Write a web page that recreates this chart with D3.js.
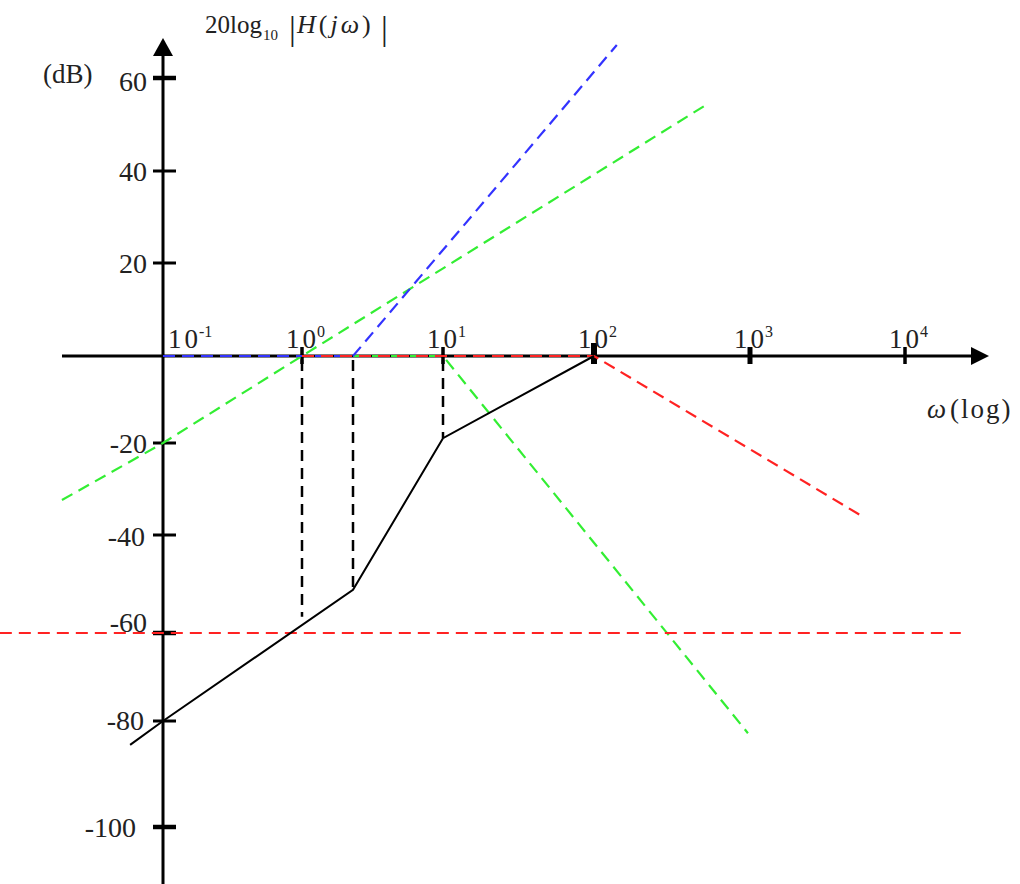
<!DOCTYPE html>
<html>
<head>
<meta charset="utf-8">
<script src="https://cdn.jsdelivr.net/npm/d3@7"></script>
<style>
  html, body { margin: 0; padding: 0; background: #fff; }
  svg { display: block; font-family: "Liberation Serif", "DejaVu Serif", serif; }
</style>
</head>
<body>
<svg id="chart" width="1020" height="884"></svg>
<script>
// ---- data (frequency in rad/s, magnitude in dB) ----
const xTicks = [0.1, 1, 10, 100, 1000, 10000];
const xExponents = ["-1", "0", "1", "2", "3", "4"];
const yTicks = [60, 40, 20, -20, -40, -60, -80, -100];

// overall asymptotic magnitude (solid black)
const totalMagnitude = [[0.058, -84.5], [0.1, -80], [2.3, -51.2], [10, -18.9], [100, 0]];
// vertical guide lines at break frequencies: [omega, lower dB]
const breakGuides = [[1, -56.7], [2.3, -51.2], [10, -18.9]];
// constant gain term (red dashed)
const constantGain = [[0.0067, -60], [22900, -60]];
// pole at 100 (red dashed)
const poleAt100 = [[1, 0], [100, 0], [5520, -36.3]];
// double zero at ~2.3 (blue dashed)
const doubleZero = [[0.1, 0], [2.3, 0], [140, 67.1]];
// zero at origin, +20 dB/dec (green dashed)
const zeroAtOrigin = [[0.01875, -32.4], [0.1, -20], [1, 0], [522, 54.2]];
// double pole at 10 (green dashed)
const doublePole = [[0.1, 0], [10, 0], [970, -82.3]];

// ---- scales (hand-drawn spacing of the original, piecewise) ----
const x = d3.scaleLog()
  .domain([0.1, 1, 10, 100, 1000, 10000])
  .range([163, 302, 443, 594, 750, 905]);
const y = d3.scaleLinear()
  .domain([60, 40, 20, 0, -20, -40, -60, -80, -100])
  .range([78, 171, 263, 356, 443, 535, 633, 721, 827]);

const svg = d3.select("#chart");
const line = d3.line().x(d => x(d[0])).y(d => y(d[1]));

// ---- axes ----
const axisG = svg.append("g");
const x0 = x(0.1), y0 = y(0);
axisG.append("line").attr("x1", x0).attr("x2", x0).attr("y1", 50).attr("y2", 884)
  .attr("stroke", "#000").attr("stroke-width", 3);
axisG.append("path").attr("d", `M${x0},38 L${x0 - 10},56 L${x0 + 10},56 Z`).attr("fill", "#000");
axisG.append("line").attr("x1", 62).attr("x2", 975).attr("y1", y0).attr("y2", y0)
  .attr("stroke", "#000").attr("stroke-width", 3);
axisG.append("path").attr("d", `M989,${y0} L971,${y0 - 9} L971,${y0 + 9} Z`).attr("fill", "#000");

// y ticks
const thickY = new Set([60, -60, -100]);
axisG.selectAll(".ytick").data(yTicks).join("line")
  .attr("x1", 153).attr("x2", 176)
  .attr("y1", d => y(d)).attr("y2", d => y(d))
  .attr("stroke", "#000").attr("stroke-width", d => thickY.has(d) ? 4.5 : 3);

const yLabelDy = { 60: 13, "-60": -1, "-40": 11, "-80": 9, "-100": 10 };
const yLabelX = { "-100": 136, "-40": 145, "-80": 144 };
axisG.selectAll(".ylab").data(yTicks).join("text")
  .attr("x", d => yLabelX[d] !== undefined ? yLabelX[d] : 147)
  .attr("y", d => y(d) + (yLabelDy[d] !== undefined ? yLabelDy[d] : 10))
  .attr("text-anchor", "end")
  .attr("font-size", 28)
  .attr("fill", "#222")
  .text(d => d);

// x ticks
axisG.selectAll(".xtick").data(xTicks.slice(1)).join("line")
  .attr("x1", d => x(d)).attr("x2", d => x(d))
  .attr("y1", d => d === 100 ? 343 : 347).attr("y2", 364)
  .attr("stroke", "#000").attr("stroke-width", d => d === 100 ? 6 : (d === 1000 ? 5 : 3.5));

const xl = axisG.selectAll(".xlab").data(xTicks).join("text")
  .attr("x", d => d === 0.1 ? x(d) + 5 : x(d) - 16)
  .attr("y", 348)
  .attr("fill", "#222");
xl.append("tspan").attr("font-size", 27).attr("letter-spacing", 3).text("10");
xl.append("tspan").attr("font-size", 16).attr("dy", -11).attr("dx", -2).text((d, i) => xExponents[i]);

// axis titles
const title = svg.append("text").attr("fill", "#222");
title.append("tspan").attr("x", 205).attr("y", 33).attr("font-size", 25).text("20log");
title.append("tspan").attr("x", 263).attr("y", 40).attr("font-size", 15).text("10");
title.append("tspan").attr("x", 289).attr("y", 40).attr("font-size", 34).text("|");
const hj = svg.append("text").attr("x", 297).attr("y", 33).attr("font-size", 26)
  .attr("letter-spacing", 3).attr("fill", "#222");
hj.append("tspan").attr("font-style", "italic").text("H");
hj.append("tspan").text("(");
hj.append("tspan").attr("font-style", "italic").text("jω");
hj.append("tspan").text(")");
title.append("tspan").attr("x", 381).attr("y", 40).attr("font-size", 34).text("|");

svg.append("text").attr("x", 43).attr("y", 83).attr("font-size", 27).attr("fill", "#222").text("(dB)");

const xt = svg.append("text").attr("y", 418).attr("fill", "#222").attr("font-size", 27);
xt.append("tspan").attr("x", 927).attr("font-style", "italic").text("ω");
xt.append("tspan").attr("x", 950).attr("letter-spacing", 2).text("(log)");

// ---- curves ----
const dashed = (data, color, dash) => svg.append("path").datum(data)
  .attr("d", line).attr("fill", "none").attr("stroke", color)
  .attr("stroke-width", 2.2).attr("stroke-dasharray", dash || "12,7");

// black dashed guides
svg.selectAll(".guide").data(breakGuides).join("line")
  .attr("x1", d => x(d[0])).attr("x2", d => x(d[0]))
  .attr("y1", y(0) + 4).attr("y2", d => y(d[1]))
  .attr("stroke", "#000").attr("stroke-width", 2.5).attr("stroke-dasharray", "11,7");

dashed(doublePole, "#33ee33");
dashed(zeroAtOrigin, "#33ee33");
dashed(doubleZero, "#3333ff");
dashed(poleAt100, "#ff2222");
dashed(constantGain, "#ff2222");

svg.append("path").datum(totalMagnitude)
  .attr("d", line).attr("fill", "none").attr("stroke", "#000").attr("stroke-width", 2);
</script>
</body>
</html>
